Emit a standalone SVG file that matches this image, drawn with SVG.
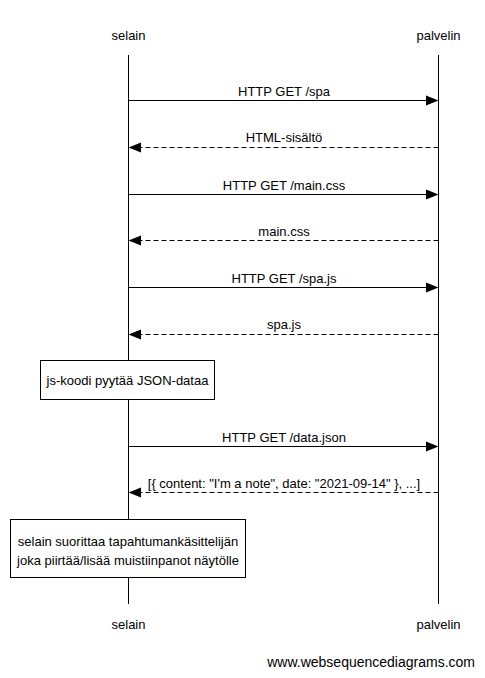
<svg xmlns="http://www.w3.org/2000/svg" width="485" height="678" viewBox="0 0 485 678">
<style>
text{font-family:"Liberation Sans",Arial,sans-serif;font-size:13px;fill:#000}
.life{stroke:#000;stroke-width:1;fill:none}
.msg{stroke:#000;stroke-width:1;fill:none}
.ret{stroke:#000;stroke-width:1;fill:none;stroke-dasharray:5,3}
.note{fill:#fff;stroke:#000;stroke-width:1}
.head{fill:#000}
</style>
<rect width="485" height="678" fill="#fff"/>
<g id="selain">
<text x="128.5" y="40" text-anchor="middle">selain</text>
<line class="life" x1="128.5" y1="55" x2="128.5" y2="604"/>
<text x="128.5" y="629" text-anchor="middle">selain</text>
</g>
<g id="palvelin">
<text x="438.5" y="40" text-anchor="middle">palvelin</text>
<line class="life" x1="438.5" y1="55" x2="438.5" y2="604"/>
<text x="438.5" y="629" text-anchor="middle">palvelin</text>
</g>
<g id="connectors">
<line class="msg" x1="128.5" y1="100.5" x2="427" y2="100.5"/>
<polygon class="head" points="438.5,100.5 426,95.5 426,105.5"/>
<text x="284" y="96" text-anchor="middle">HTTP GET /spa</text>
<line class="ret" x1="438.5" y1="147.5" x2="140" y2="147.5"/>
<polygon class="head" points="128.5,147.5 141,142.5 141,152.5"/>
<text x="284" y="142" text-anchor="middle">HTML-sisältö</text>
<line class="msg" x1="128.5" y1="194.5" x2="427" y2="194.5"/>
<polygon class="head" points="438.5,194.5 426,189.5 426,199.5"/>
<text x="284" y="190" text-anchor="middle">HTTP GET /main.css</text>
<line class="ret" x1="438.5" y1="240.5" x2="140" y2="240.5"/>
<polygon class="head" points="128.5,240.5 141,235.5 141,245.5"/>
<text x="284" y="236" text-anchor="middle">main.css</text>
<line class="msg" x1="128.5" y1="287.5" x2="427" y2="287.5"/>
<polygon class="head" points="438.5,287.5 426,282.5 426,292.5"/>
<text x="284" y="283" text-anchor="middle">HTTP GET /spa.js</text>
<line class="ret" x1="438.5" y1="334.5" x2="140" y2="334.5"/>
<polygon class="head" points="128.5,334.5 141,329.5 141,339.5"/>
<text x="284" y="329" text-anchor="middle">spa.js</text>
<line class="msg" x1="128.5" y1="446.5" x2="427" y2="446.5"/>
<polygon class="head" points="438.5,446.5 426,441.5 426,451.5"/>
<text x="284" y="442" text-anchor="middle">HTTP GET /data.json</text>
<line class="ret" x1="438.5" y1="492.5" x2="140" y2="492.5"/>
<polygon class="head" points="128.5,492.5 141,487.5 141,497.5"/>
<text x="284" y="488" text-anchor="middle">[{ content: "I'm a note", date: "2021-09-14" }, ...]</text>
</g>
<g id="note1">
<rect class="note" x="40.5" y="360.5" width="174" height="39"/>
<text x="127.5" y="385" text-anchor="middle">js-koodi pyytää JSON-dataa</text>
</g>
<g id="note2">
<rect class="note" x="10.5" y="519.5" width="235" height="58"/>
<text x="128" y="546" text-anchor="middle">selain suorittaa tapahtumankäsittelijän</text>
<text x="128" y="565" text-anchor="middle">joka piirtää/lisää muistiinpanot näytölle</text>
</g>
<text x="475" y="667" text-anchor="end" style="font-size:14px">www.websequencediagrams.com</text>
</svg>
